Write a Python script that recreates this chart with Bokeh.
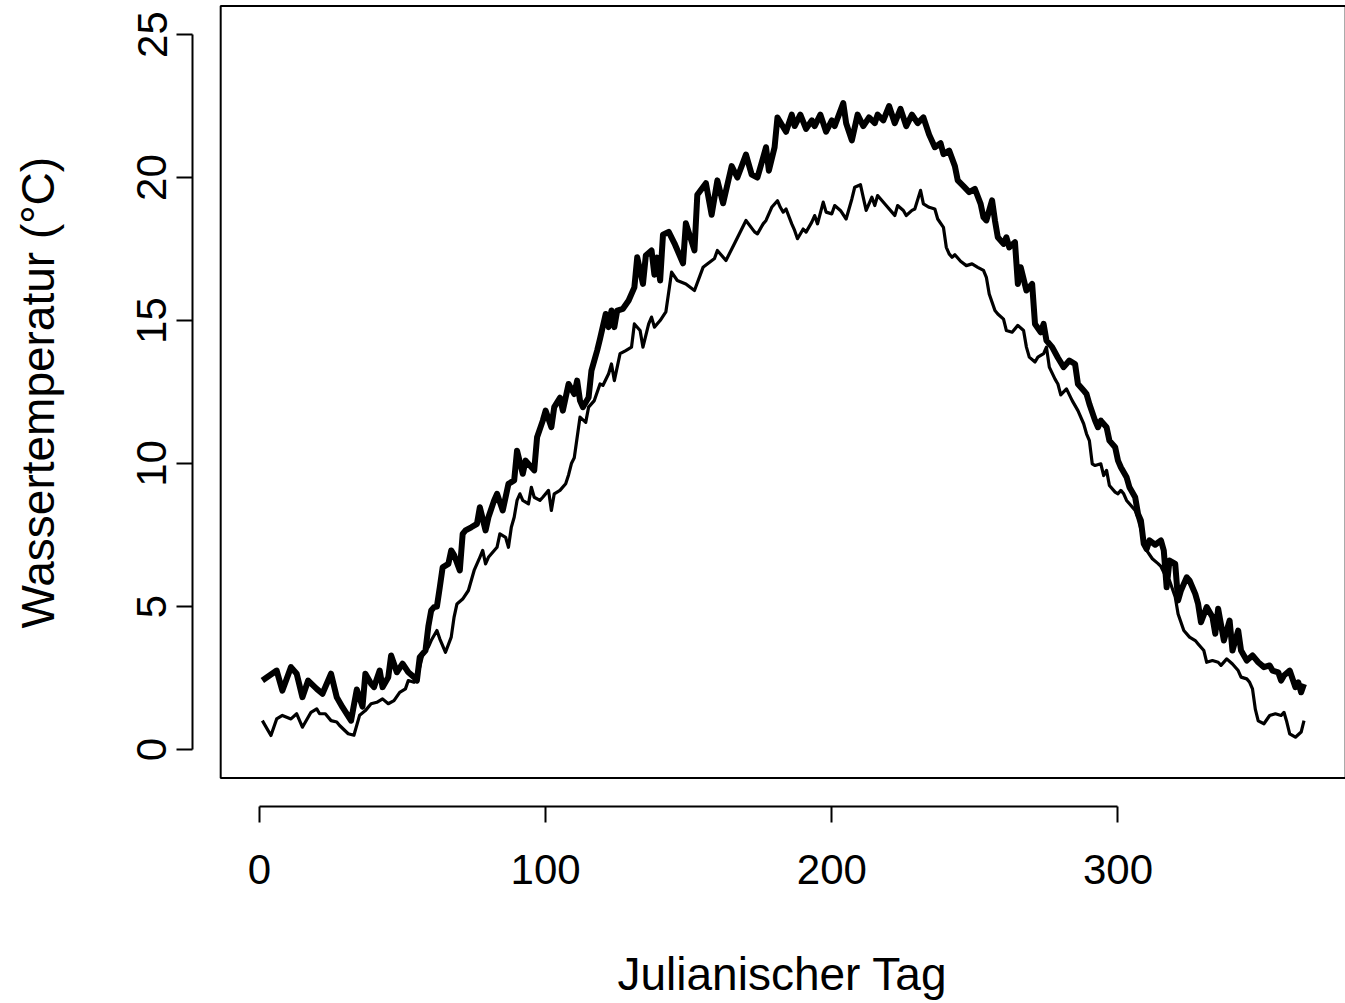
from bokeh.plotting import figure
from bokeh.models import Range1d, FixedTicker, BoxAnnotation, Title, LinearAxis
from bokeh.embed import file_html
from bokeh.resources import INLINE

# ---- data ----
thick_day = [1, 6, 8, 11, 13, 15, 17, 20, 22, 25, 27, 29, 32, 34, 36, 37, 39, 40, 42, 43,
             45, 46, 48, 50, 52, 54, 55, 56, 58, 59, 60, 61, 62, 63, 64, 66, 67, 68, 70, 71,
             72, 74, 76, 77, 79, 80, 82, 83, 85, 87, 89, 90, 92, 93, 96, 97, 99, 100, 102, 103,
             105, 106, 108, 110, 111, 112, 113, 115, 116, 118, 119, 121, 122, 123, 124, 125, 127, 129, 131, 132,
             134, 135, 137, 138, 139, 140, 141, 143, 145, 148, 149, 152, 153, 156, 158, 160, 162, 165, 167, 170,
             172, 174, 176, 177, 178, 180, 181, 184, 186, 187, 189, 191, 193, 194, 196, 198, 200, 201, 204, 205,
             207, 209, 211, 213, 215, 216, 218, 220, 222, 224, 226, 228, 230, 232, 234, 236, 238, 239, 241, 243,
             244, 246, 248, 250, 252, 253, 254, 256, 257, 258, 260, 261, 262, 264, 265, 266, 268, 270, 271, 273,
             274, 275, 277, 279, 281, 283, 285, 286, 288, 289, 290, 292, 293, 294, 296, 297, 299, 300, 301, 303,
             304, 306, 307, 308, 309, 310, 311, 313, 315, 316, 317, 318, 320, 321, 322, 324, 325, 327, 328, 329,
             331, 333, 334, 335, 337, 339, 340, 342, 343, 345, 347, 349, 351, 353, 354, 356, 357, 358, 360, 362,
             363, 364, 365]
thick_temp = [2.41, 2.76, 2.06, 2.88, 2.65, 1.83, 2.41, 2.12, 1.95, 2.65, 1.83, 1.48, 1.01, 2.1, 1.5, 2.65, 2.3, 2.18, 2.76, 2.18,
              2.53, 3.29, 2.70, 3.00, 2.70, 2.53, 2.41, 3.23, 3.46, 4.3, 4.86, 4.98, 5.0, 5.67, 6.37, 6.49, 6.96, 6.8, 6.26, 7.54,
              7.66, 7.77, 7.89, 8.47, 7.66, 8.12, 8.71, 8.94, 8.36, 9.29, 9.41, 10.45, 9.64, 10.10, 9.76, 10.92, 11.50, 11.85, 11.27, 11.97,
              12.3, 11.85, 12.78, 12.43, 12.90, 12.20, 11.97, 12.31, 13.25, 13.95, 14.36, 15.23, 14.77, 15.35, 14.77, 15.35, 15.41, 15.70, 16.16, 17.21,
              16.28, 17.27, 17.45, 16.6, 17.2, 16.4, 18.0, 18.1, 17.7, 17.0, 18.4, 17.45, 19.4, 19.8, 18.7, 19.9, 19.1, 20.4, 20.0, 20.8,
              20.1, 20.0, 20.7, 21.06, 20.24, 21.06, 22.1, 21.6, 22.2, 21.8, 22.2, 21.7, 22.0, 21.8, 22.2, 21.6, 22.0, 21.8, 22.6, 21.9,
              21.3, 22.2, 21.8, 22.1, 21.9, 22.2, 22.0, 22.5, 21.9, 22.4, 21.8, 22.2, 21.9, 22.1, 21.5, 21.06, 21.2, 20.82, 20.94, 20.4,
              19.9, 19.7, 19.49, 19.6, 19.08, 18.61, 18.5, 19.2, 18.5, 17.91, 17.68, 17.91, 17.56, 17.74, 16.28, 16.86, 16.05, 16.28, 14.88, 14.59,
              14.88, 14.3, 14.07, 13.7, 13.37, 13.6, 13.48, 12.78, 12.55, 12.43, 12.08, 11.5, 11.27, 11.5, 11.27, 10.8, 10.57, 10.1, 9.87, 9.52,
              9.17, 8.82, 8.24, 8.01, 7.19, 7.01, 7.31, 7.16, 7.31, 6.96, 5.67, 6.61, 6.49, 5.21, 5.56, 6.02, 5.91, 5.44, 5.09, 4.45,
              4.98, 4.63, 4.05, 4.92, 3.81, 4.51, 3.46, 4.16, 3.46, 3.11, 3.29, 3.05, 2.88, 2.94, 2.76, 2.70, 2.41, 2.59, 2.76, 2.18,
              2.35, 2.0, 2.29]

thin_day = [1, 4, 6, 8, 11, 13, 15, 18, 20, 21, 23, 25, 27, 28, 31, 33, 35, 37, 39, 41,
            43, 45, 47, 49, 51, 52, 54, 56, 57, 59, 60, 62, 63, 65, 67, 68, 69, 71, 73, 75,
            77, 78, 79, 80, 83, 84, 86, 87, 88, 89, 90, 91, 92, 94, 95, 96, 98, 99, 101, 102,
            103, 105, 107, 108, 109, 110, 112, 114, 115, 117, 119, 120, 122, 123, 124, 126, 128, 130, 131, 133,
            134, 136, 137, 138, 140, 142, 144, 146, 149, 152, 155, 159, 160, 163, 166, 170, 173, 174, 176, 177,
            179, 181, 182, 183, 184, 186, 187, 188, 190, 191, 193, 194, 195, 197, 198, 200, 201, 203, 205, 207,
            208, 210, 211, 212, 214, 215, 216, 219, 221, 222, 223, 225, 226, 228, 229, 231, 232, 234, 236, 237,
            239, 240, 241, 242, 243, 245, 247, 249, 251, 253, 254, 255, 257, 258, 260, 261, 263, 265, 267, 268,
            269, 271, 272, 274, 275, 276, 278, 279, 280, 282, 284, 286, 288, 289, 290, 291, 292, 294, 295, 296,
            297, 299, 300, 301, 302, 303, 304, 306, 307, 308, 309, 310, 312, 314, 315, 317, 318, 320, 321, 323,
            325, 327, 328, 330, 331, 333, 335, 336, 338, 340, 342, 343, 345, 346, 347, 348, 349, 351, 353, 355,
            357, 358, 359, 360, 362, 364, 365]
thin_temp = [1.01, 0.49, 1.07, 1.19, 1.07, 1.25, 0.78, 1.30, 1.42, 1.25, 1.25, 1.01, 0.96, 0.84, 0.55, 0.5, 1.2, 1.36, 1.60, 1.65,
             1.77, 1.60, 1.71, 2.00, 2.12, 2.41, 2.35, 2.88, 3.29, 3.58, 3.81, 4.16, 3.87, 3.40, 3.93, 4.63, 5.09, 5.26, 5.56, 6.26,
             6.72, 6.96, 6.49, 6.72, 7.07, 7.54, 7.42, 7.07, 7.77, 8.12, 8.71, 8.94, 8.71, 8.59, 9.17, 8.82, 8.71, 8.82, 9.06, 8.36,
             8.94, 9.06, 9.29, 9.6, 10.0, 10.2, 11.62, 11.44, 11.97, 12.20, 12.78, 12.73, 13.14, 13.48, 12.90, 13.84, 13.95, 14.07, 14.88, 14.65,
             14.07, 14.88, 15.12, 14.77, 15.0, 15.3, 16.69, 16.4, 16.28, 16.05, 16.86, 17.17, 17.45, 17.1, 17.69, 18.5, 18.1, 18.03, 18.38, 18.5,
             18.96, 19.19, 18.96, 18.79, 18.9, 18.38, 18.15, 17.86, 18.2, 18.09, 18.44, 18.67, 18.38, 19.14, 18.79, 18.73, 19.02, 18.85, 18.55, 19.25,
             19.66, 19.75, 19.3, 18.85, 19.31, 19.02, 19.37, 19.02, 18.79, 18.67, 19.02, 18.85, 18.67, 18.85, 18.9, 19.55, 19.08, 18.96, 18.9, 18.55,
             18.26, 17.56, 17.33, 17.21, 17.3, 17.07, 16.92, 16.98, 16.86, 16.75, 16.51, 15.93, 15.35, 15.23, 15.05, 14.65, 14.59, 14.83, 14.65, 14.07,
             13.72, 13.55, 13.72, 13.84, 14.07, 13.37, 12.95, 12.78, 12.4, 12.61, 12.2, 11.85, 11.39, 11.04, 10.8, 9.99, 9.93, 9.99, 9.58, 9.76,
             9.23, 9.0, 8.94, 9.06, 8.94, 8.71, 8.59, 8.36, 8.07, 7.71, 7.31, 6.96, 6.67, 6.5, 6.4, 6.0, 5.91, 5.33, 4.74, 4.16,
             3.93, 3.81, 3.69, 3.46, 3.05, 3.11, 3.05, 2.94, 3.17, 2.99, 2.76, 2.53, 2.47, 2.35, 2.12, 1.4, 1.0, 0.9, 1.19, 1.25,
             1.19, 1.3, 0.96, 0.55, 0.43, 0.61, 1.01]

x_ticks = [0, 100, 200, 300]
y_ticks = [0, 5, 10, 15, 20, 25]
x_title = "Julianischer Tag"
y_title = "Wassertemperatur (°C)"

FONT = "Liberation Sans"

# R-style plot region: data range extended by 4 %
xr = (min(thick_day + thin_day), max(thick_day + thin_day))
xpad = 0.04 * (xr[1] - xr[0])
ylim = (y_ticks[0], y_ticks[-1])
ypad = 0.04 * (ylim[1] - ylim[0])

p = figure(width=1345, height=1003, output_backend="svg", toolbar_location=None,
           x_range=Range1d(-23.41, 379.5), y_range=Range1d(-1.993, 26.19),
           min_border_left=192, min_border_right=0, min_border_top=0, min_border_bottom=197)
p.outline_line_color = None
p.grid.visible = False
p.background_fill_color = "white"
p.border_fill_color = "white"

box = BoxAnnotation(left=xr[0] - xpad, right=xr[1] + xpad,
                    bottom=ylim[0] - ypad, top=ylim[1] + ypad,
                    fill_color=None, fill_alpha=0, line_color="black",
                    line_alpha=1.0, line_width=2)
p.add_layout(box)

p.line(thin_day, thin_temp, line_width=3.2, line_color="black", line_join="round")
p.line(thick_day, thick_temp, line_width=6, line_color="black", line_join="round")

for ax, ticks in ((p.xaxis, x_ticks), (p.yaxis, y_ticks)):
    ax.ticker = FixedTicker(ticks=ticks)
    ax.bounds = (ticks[0], ticks[-1])
    ax.minor_tick_line_color = None
    ax.major_tick_in = 0
    ax.major_tick_out = 16
    ax.axis_line_width = 2
    ax.major_tick_line_width = 2
    ax.axis_line_color = "black"
    ax.major_tick_line_color = "black"
    ax.major_label_text_font = FONT
    ax.major_label_text_font_size = "42px"
    ax.major_label_text_color = "black"

p.xaxis.major_label_standoff = 32
p.yaxis.major_label_orientation = "vertical"
p.yaxis.major_label_standoff = 10


def spacer(tick, size):
    """A blank axis (one white, label-less tick) that only reserves room before a title."""
    return LinearAxis(ticker=FixedTicker(ticks=[tick]), major_label_overrides={tick: ""},
                      axis_line_color=None, major_tick_line_color="white",
                      minor_tick_line_color=None, major_tick_in=0, major_tick_out=size,
                      minor_tick_out=0, major_label_standoff=0,
                      major_label_text_font_size="1px")


p.add_layout(spacer(x_ticks[0], 60), "below")
p.add_layout(spacer(y_ticks[0], 70), "left")

# axis titles positioned like R's title(): centred on the plot region
p.add_layout(Title(text=x_title, align="left", offset=425, standoff=0,
                   vertical_align="middle", text_font=FONT, text_font_size="46px",
                   text_font_style="normal", text_color="black"), "below")
p.add_layout(Title(text=y_title, align="left", offset=178, standoff=0,
                   vertical_align="middle", text_font=FONT, text_font_size="46px",
                   text_font_style="normal", text_color="black"), "left")

open("out.html", "w").write(file_html(p, INLINE))
